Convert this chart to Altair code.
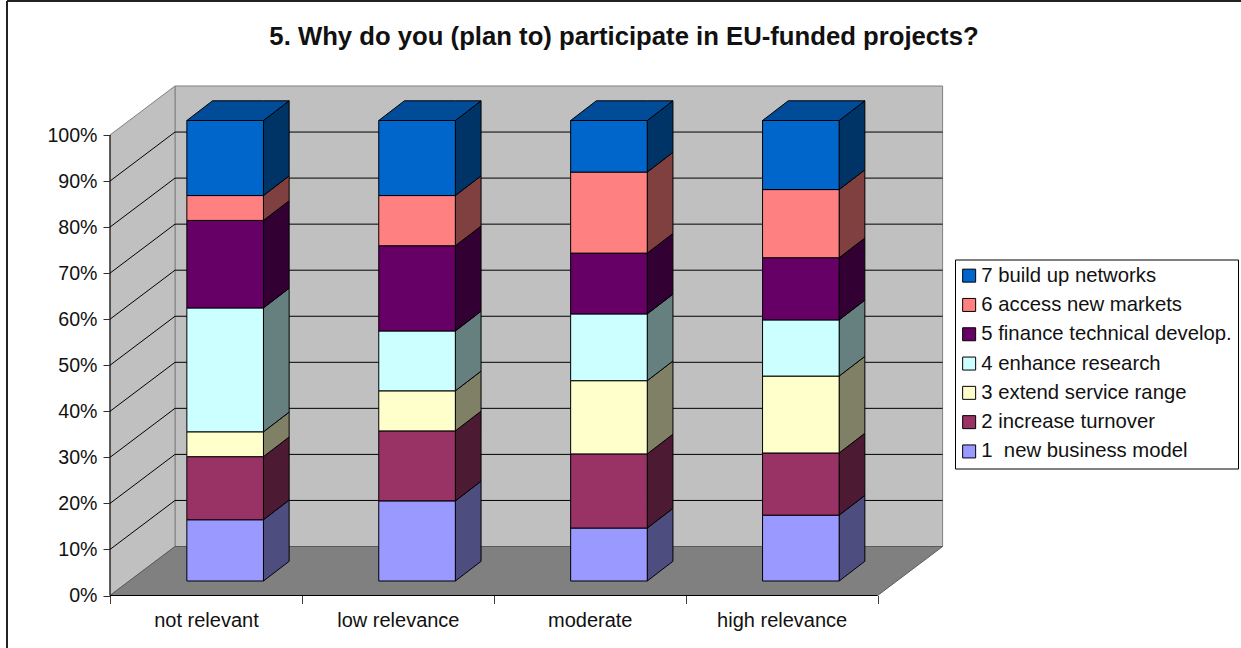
import altair as alt
import pandas as pd

# Survey answers: share of each motive within every relevance class (percent)
categories = ["not relevant", "low relevance", "moderate", "high relevance"]
series_names = [
    "1\u00a0 new business model",
    "2 increase turnover",
    "3 extend service range",
    "4 enhance research",
    "5 finance technical develop.",
    "6 access new markets",
    "7 build up networks",
]
new_business = [13.3, 17.4, 11.5, 14.3]
turnover = [13.7, 15.2, 16.1, 13.5]
service_range = [5.4, 8.7, 15.9, 16.7]
research = [26.9, 13.0, 14.5, 12.2]
technical = [19.0, 18.5, 13.2, 13.5]
new_markets = [5.4, 10.9, 17.6, 14.8]
networks = [16.3, 16.3, 11.2, 15.0]
series_values = [new_business, turnover, service_range, research, technical, new_markets, networks]

front_colors = ["#9999FF", "#993366", "#FFFFCC", "#CCFFFF", "#660066", "#FF8080", "#0066CC"]
side_colors = ["#4D4D80", "#4D1A33", "#808066", "#668080", "#330033", "#804040", "#003366"]
top_color = "#004C99"

# Plot scale and oblique projection, in data units per pixel
PX_X = 191.9
PX_Y = 4.605
VIEW_W, VIEW_H = 1234, 647
ORIGIN_X, ORIGIN_Y = 103.0, 594.5   # position of (0, 0%) inside the view
WALL_DX, WALL_DY = 65 / PX_X, 49 / PX_Y
BAR_DX, BAR_DY = 19.2 / PX_X, 14.5 / PX_Y
DEPTH_DX, DEPTH_DY = 25.7 / PX_X, 19.7 / PX_Y
BAR_W = 76.6 / PX_X

x_scale = alt.Scale(domain=[-ORIGIN_X / PX_X, (VIEW_W - ORIGIN_X) / PX_X], nice=False, zero=False)
y_scale = alt.Scale(domain=[(ORIGIN_Y - VIEW_H) / PX_Y, ORIGIN_Y / PX_Y], nice=False, zero=False)
X = alt.X("x:Q", scale=x_scale, title=None)
Y = alt.Y("y:Q", scale=y_scale, title=None)

fronts, sides, tops = [], [], []
for c, cat in enumerate(categories):
    left = c + 0.5 - BAR_W / 2 + BAR_DX
    right = left + BAR_W
    low = BAR_DY
    for s, name in enumerate(series_names):
        high = low + series_values[s][c]
        fronts.append({"x": left, "x2": right, "y": low, "y2": high, "series": name, "category": cat})
        face = f"side-{c}-{s}"
        sides.append({"face": face, "x": right, "y": low, "y2": high, "fill": side_colors[s]})
        sides.append({"face": face, "x": right + DEPTH_DX, "y": low + DEPTH_DY, "y2": high + DEPTH_DY,
                      "fill": side_colors[s]})
        low = high
    face = f"top-{c}"
    tops += [
        {"face": face, "x": left, "y": low, "y2": low},
        {"face": face, "x": left + DEPTH_DX, "y": low, "y2": low + DEPTH_DY},
        {"face": face, "x": right, "y": low, "y2": low + DEPTH_DY},
        {"face": face, "x": right + DEPTH_DX, "y": low + DEPTH_DY, "y2": low + DEPTH_DY},
    ]

n_cat = len(categories)
ticks = list(range(0, 101, 10))


def area_layer(rows, **mark):
    return alt.Chart(pd.DataFrame(rows)).mark_area(**mark).encode(
        x=X, y=Y, y2="y2:Q", detail="face:N"
    )


# Walls and floor of the box
back_wall = alt.Chart(pd.DataFrame([{"x": WALL_DX, "x2": WALL_DX + n_cat, "y": WALL_DY, "y2": 100 + WALL_DY}])).mark_rect(
    fill="#C0C0C0", stroke="#808080", strokeWidth=1
).encode(x=X, x2="x2:Q", y=Y, y2="y2:Q")
side_wall = area_layer(
    [{"face": "wall", "x": 0, "y": 0, "y2": 100}, {"face": "wall", "x": WALL_DX, "y": WALL_DY, "y2": 100 + WALL_DY}],
    fill="#C0C0C0", stroke="#808080", strokeWidth=1,
)
floor = area_layer(
    [
        {"face": "floor", "x": 0, "y": 0, "y2": 0},
        {"face": "floor", "x": WALL_DX, "y": 0, "y2": WALL_DY},
        {"face": "floor", "x": n_cat, "y": 0, "y2": WALL_DY},
        {"face": "floor", "x": n_cat + WALL_DX, "y": WALL_DY, "y2": WALL_DY},
    ],
    fill="#808080", stroke="#5A5A5A", strokeWidth=1,
)

# Gridlines run along the back wall and slant across the side wall
grid_back = alt.Chart(pd.DataFrame([{"x": WALL_DX, "x2": WALL_DX + n_cat, "y": v + WALL_DY} for v in ticks[1:-1]])).mark_rule(
    color="black", strokeWidth=1
).encode(x=X, x2="x2:Q", y=Y)
grid_side_rows = []
for v in ticks[1:-1]:
    grid_side_rows += [{"tick": v, "x": 0, "y": v}, {"tick": v, "x": WALL_DX, "y": v + WALL_DY}]
grid_side = alt.Chart(pd.DataFrame(grid_side_rows)).mark_line(color="black", strokeWidth=1).encode(
    x=X, y=Y, detail="tick:N"
)

# Front edges of the box, with the axes carrying ticks and labels
label_map = ", ".join(f"{i + 0.5}: '{c}'" for i, c in enumerate(categories))
axis_holder = alt.Chart(pd.DataFrame([{"x": 0, "y": 0}])).mark_point(opacity=0).encode(
    x=alt.X(
        "x:Q", scale=x_scale, title=None,
        axis=alt.Axis(
            values=[v / 2 for v in range(0, 2 * n_cat + 1)],
            labelExpr=f"({{{label_map}}})[datum.value] || ''",
            offset=-(VIEW_H - ORIGIN_Y), domain=False, grid=False,
            tickSize=8, tickColor="#404040",
            tickOpacity={"condition": {"test": "datum.value % 1 != 0", "value": 0}, "value": 1},
            labelFontSize=20, labelFont="Liberation Sans", labelColor="#111111", labelPadding=7, labelAngle=0,
            labelOverlap=False,
        ),
    ),
    y=alt.Y(
        "y:Q", scale=y_scale, title=None,
        axis=alt.Axis(
            values=ticks,
            labelExpr="datum.value + '%'",
            offset=-ORIGIN_X, domain=False, grid=False,
            tickSize=7, tickColor="#303030",
            labelFontSize=19.6, labelFont="Liberation Sans", labelColor="#111111", labelPadding=6,
            labelOverlap=False,
        ),
    ),
)
edge_vertical = alt.Chart(pd.DataFrame([{"x": 0, "y": 0, "y2": 100}])).mark_rule(color="black", strokeWidth=1).encode(
    x=X, y=Y, y2="y2:Q"
)
edge_bottom = alt.Chart(pd.DataFrame([{"x": 0, "x2": n_cat, "y": 0}])).mark_rule(color="black", strokeWidth=1).encode(
    x=X, x2="x2:Q", y=Y
)

# Outer frame: only its top and left edges fall inside the page
frame_top = alt.Chart(pd.DataFrame([{"y": ORIGIN_Y / PX_Y}])).mark_rule(color="#222222", strokeWidth=2).encode(
    y=Y, x=alt.value(0), x2=alt.value(VIEW_W)
)
frame_left = alt.Chart(pd.DataFrame([{"x": -ORIGIN_X / PX_X}])).mark_rule(color="#222222", strokeWidth=2).encode(
    x=X, y=alt.value(0), y2=alt.value(VIEW_H)
)

# The stacked columns: side faces, lids, then front faces
side_layer = alt.Chart(pd.DataFrame(sides)).mark_area(stroke="black", strokeWidth=1).encode(
    x=X, y=Y, y2="y2:Q", detail="face:N", fill=alt.Fill("fill:N", scale=None)
)
top_layer = area_layer(tops, fill=top_color, stroke="black", strokeWidth=1)
front_layer = alt.Chart(pd.DataFrame(fronts)).mark_rect(stroke="black", strokeWidth=1).encode(
    x=X, x2="x2:Q", y=Y, y2="y2:Q",
    color=alt.Color(
        "series:N",
        scale=alt.Scale(domain=series_names[::-1], range=front_colors[::-1]),
        legend=alt.Legend(
            title=None, orient="none", legendX=948, legendY=258.5,
            fillColor="white", strokeColor="black", padding=6,
            symbolType="square", symbolSize=169, symbolStrokeColor="black", symbolStrokeWidth=1,
            symbolOffset=-2,
            labelFont="Liberation Sans", labelFontSize=20.3, labelColor="#111111", labelLimit=400,
            rowPadding=8.3, labelOffset=2,
        ),
    ),
    tooltip=["category:N", "series:N"],
)

chart = alt.layer(
    back_wall, side_wall, floor, grid_back, grid_side, axis_holder,
    edge_vertical, edge_bottom, frame_top, frame_left,
    side_layer, top_layer, front_layer,
).properties(
    width=VIEW_W, height=VIEW_H,
    autosize=alt.AutoSizeParams(type="none"),
    padding={"left": 7, "top": 1, "right": 0, "bottom": 0},
    background="white",
    title=alt.Title(
        "5. Why do you (plan to) participate in EU-funded projects?",
        font="Liberation Sans", fontSize=25.7, fontWeight="bold", color="#111111",
        anchor="middle", dy=55,
    ),
).configure_view(stroke=None)

chart.save("out.html", embed_options={"renderer": "svg", "actions": False})
